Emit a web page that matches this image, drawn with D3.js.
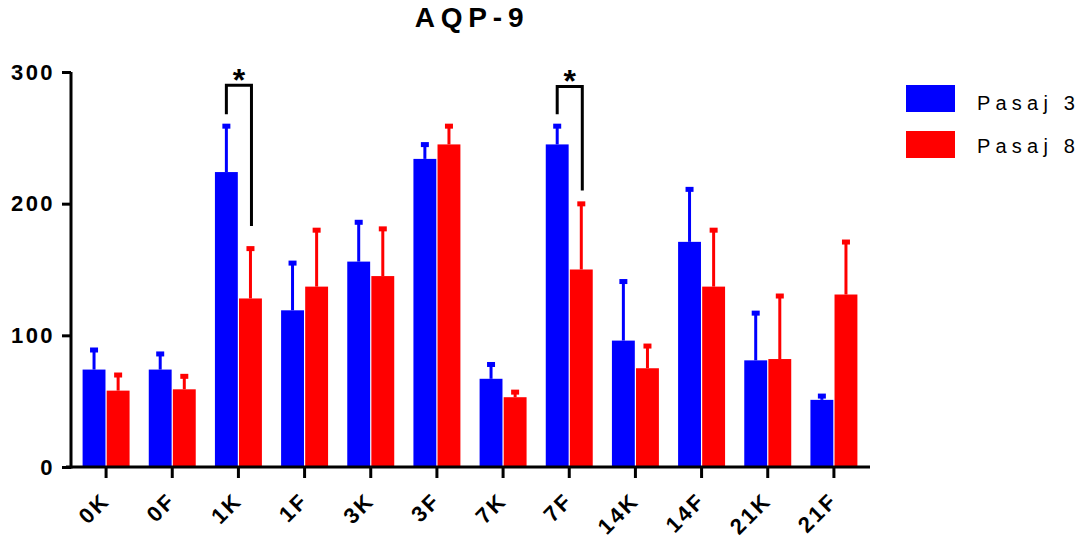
<!DOCTYPE html>
<html>
<head>
<meta charset="utf-8">
<script src="https://cdn.jsdelivr.net/npm/d3@7"></script>
<style>
  body { margin: 0; background: #fff; }
  svg { display: block; font-family: "Liberation Sans", Arial, sans-serif; }
</style>
</head>
<body>
<svg id="chart" width="1088" height="543"></svg>
<script>
// Group labels along the x axis
const categories = ["0K", "0F", "1K", "1F", "3K", "3F", "7K", "7F", "14K", "14F", "21K", "21F"];
const seriesNames = ["Pasaj 3", "Pasaj 8"];
const seriesColors = ["#0000ff", "#ff0000"];

// Means and upper error bar ends (mean + SD) for each passage
const pasaj3Mean = [74, 74, 224, 119, 156, 234, 67, 245, 96, 171, 81, 51];
const pasaj3Err  = [90, 87, 260, 156, 187, 246, 79, 260, 142, 212, 118, 55];
const pasaj8Mean = [58, 59, 128, 137, 145, 245, 53, 150, 75, 137, 82, 131];
const pasaj8Err  = [71, 70, 167, 181, 182, 260, 58, 201, 93, 181, 131, 172];

const yTicks = [0, 100, 200, 300];

// Significance brackets: category, top of bracket, bottom of left and right legs
const sigCategories = ["1K", "7F"];
const sigTop = [290, 289];
const sigLeftBottom = [268, 268];
const sigRightBottom = [183, 210];

const svg = d3.select("#chart");
const margin = { left: 73, right: 221, top: 72, bottom: 76 };
const W = 1088, H = 543;

const x = d3.scaleBand().domain(categories)
  .range([margin.left, W - margin.right]).paddingInner(0.29).paddingOuter(0.145);
const xs = d3.scaleBand().domain(seriesNames).range([0, x.bandwidth()]).paddingInner(0.05);
const y = d3.scaleLinear().domain([0, 300]).range([H - margin.bottom, margin.top]);

const rows = categories.map((c, i) => ({
  cat: c,
  vals: [
    { s: seriesNames[0], mean: pasaj3Mean[i], err: pasaj3Err[i], color: seriesColors[0] },
    { s: seriesNames[1], mean: pasaj8Mean[i], err: pasaj8Err[i], color: seriesColors[1] }
  ]
}));

const groups = svg.append("g").selectAll("g").data(rows).join("g")
  .attr("transform", d => `translate(${x(d.cat)},0)`);

// Error bars (upper only)
groups.selectAll("line.err").data(d => d.vals).join("line")
  .attr("class", "err")
  .attr("x1", d => xs(d.s) + xs.bandwidth() / 2)
  .attr("x2", d => xs(d.s) + xs.bandwidth() / 2)
  .attr("y1", d => y(d.mean))
  .attr("y2", d => y(d.err))
  .attr("stroke", d => d.color).attr("stroke-width", 3);
groups.selectAll("rect.cap").data(d => d.vals).join("rect")
  .attr("class", "cap")
  .attr("x", d => xs(d.s) + xs.bandwidth() / 2 - 4)
  .attr("y", d => y(d.err) - 1)
  .attr("width", 8).attr("height", 5)
  .attr("fill", d => d.color);

// Bars
groups.selectAll("rect.bar").data(d => d.vals).join("rect")
  .attr("class", "bar")
  .attr("x", d => xs(d.s))
  .attr("y", d => y(d.mean))
  .attr("width", xs.bandwidth())
  .attr("height", d => y(0) - y(d.mean))
  .attr("fill", d => d.color);

// Y axis
const yAxis = svg.append("g").attr("transform", `translate(${margin.left - 2},0)`)
  .call(d3.axisLeft(y).tickValues(yTicks).tickSize(9).tickSizeOuter(0).tickPadding(7));
yAxis.select(".domain").attr("stroke", "#000").attr("stroke-width", 3)
  .attr("d", `M0,${y(300)}V${y(0) + 1.5}`);
yAxis.selectAll(".tick line").attr("stroke", "#000").attr("stroke-width", 3);
yAxis.selectAll(".tick text").attr("fill", "#000")
  .style("font-size", "22px").style("font-weight", "bold").style("letter-spacing", "2.4px");

// X axis
const xAxis = svg.append("g").attr("transform", `translate(0,${y(0)})`)
  .call(d3.axisBottom(x).tickSize(11).tickSizeOuter(0));
xAxis.select(".domain").attr("stroke", "#000").attr("stroke-width", 3)
  .attr("d", `M${margin.left - 7},0H${W - margin.right + 3}`);
xAxis.selectAll(".tick line").attr("stroke", "#000").attr("stroke-width", 3);
xAxis.selectAll(".tick text").attr("fill", "#000")
  .style("font-size", "22px").style("font-weight", "bold").style("letter-spacing", "2.4px")
  .attr("text-anchor", "end")
  .attr("x", 0).attr("y", 0).attr("dy", 0)
  .attr("transform", "translate(5,35) rotate(-45)");

// Significance brackets
sigCategories.forEach((c, i) => {
  const xl = x(c) + xs(seriesNames[0]) + xs.bandwidth() / 2;
  const xr = x(c) + xs(seriesNames[1]) + xs.bandwidth() / 2 + 1;
  svg.append("path")
    .attr("d", `M${xl},${y(sigLeftBottom[i])}V${y(sigTop[i])}H${xr}V${y(sigRightBottom[i])}`)
    .attr("fill", "none").attr("stroke", "#000").attr("stroke-width", 3);
  svg.append("text")
    .attr("x", (xl + xr) / 2).attr("y", y(sigTop[i]) + 6)
    .attr("text-anchor", "middle")
    .style("font-size", "32px").style("font-weight", "bold")
    .text("*");
});

// Title
svg.append("text")
  .attr("x", 472).attr("y", 27).attr("text-anchor", "middle")
  .style("font-size", "28px").style("font-weight", "bold").style("letter-spacing", "5.8px")
  .text("AQP-9");

// Legend
const legend = svg.append("g").selectAll("g").data(seriesNames).join("g")
  .attr("transform", (d, i) => `translate(906,${85 + i * 46})`);
legend.append("rect").attr("width", 49).attr("height", 27)
  .attr("fill", (d, i) => seriesColors[i]);
legend.append("text").attr("x", 71).attr("y", (d, i) => 25 - i * 3)
  .style("font-size", "20px").style("letter-spacing", "5.2px")
  .text(d => d);
</script>
</body>
</html>
